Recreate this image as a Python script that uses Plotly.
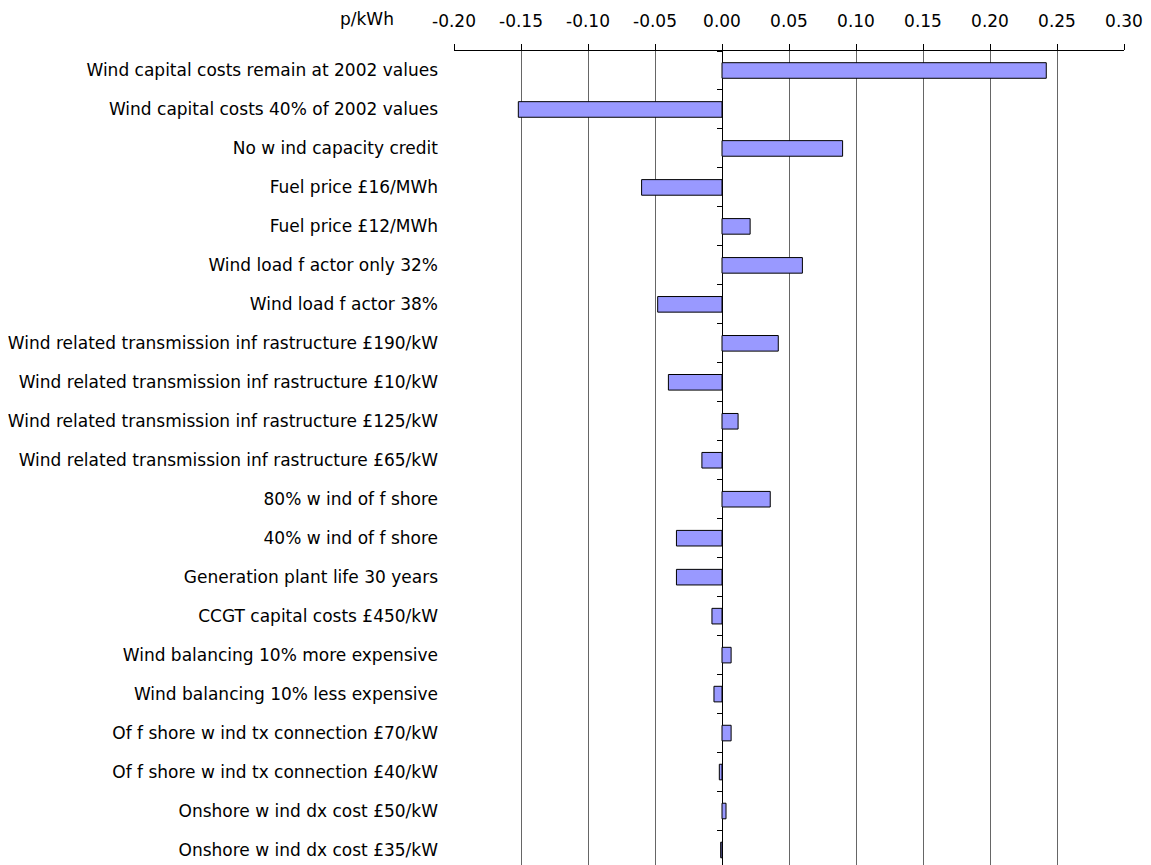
import plotly.graph_objects as go

categories = [
    "Wind capital costs remain at 2002 values",
    "Wind capital costs 40% of 2002 values",
    "No w ind capacity credit",
    "Fuel price £16/MWh",
    "Fuel price £12/MWh",
    "Wind load f actor only 32%",
    "Wind load f actor 38%",
    "Wind related transmission inf rastructure £190/kW",
    "Wind related transmission inf rastructure £10/kW",
    "Wind related transmission inf rastructure £125/kW",
    "Wind related transmission inf rastructure £65/kW",
    "80% w ind of f shore",
    "40% w ind of f shore",
    "Generation plant life 30 years",
    "CCGT capital costs £450/kW",
    "Wind balancing 10% more expensive",
    "Wind balancing 10% less expensive",
    "Of f shore w ind tx connection £70/kW",
    "Of f shore w ind tx connection £40/kW",
    "Onshore w ind dx cost £50/kW",
    "Onshore w ind dx cost £35/kW",
]
values = [0.242, -0.152, 0.090, -0.060, 0.021, 0.060, -0.048, 0.042, -0.040,
          0.012, -0.015, 0.036, -0.034, -0.034, -0.0075, 0.0068, -0.006,
          0.0068, -0.002, 0.003, -0.001]
tick_vals = [-0.20, -0.15, -0.10, -0.05, 0.00, 0.05, 0.10, 0.15, 0.20, 0.25, 0.30]
tick_text = ["-0.20", "-0.15", "-0.10", "-0.05", "0.00", "0.05", "0.10",
             "0.15", "0.20", "0.25", "0.30"]
unit_label = "p/kWh"

FONT = "DejaVu Sans"
FS = 17

fig = go.Figure()
fig.add_trace(go.Bar(
    x=values, y=categories, orientation="h", width=0.4,
    marker=dict(color="#9999FF", line=dict(color="black", width=1)),
    yaxis="y", hoverinfo="x+y", showlegend=False,
))
fig.add_trace(go.Scatter(
    x=values, y=categories, mode="markers", marker=dict(opacity=0),
    yaxis="y2", hoverinfo="skip", showlegend=False,
))

yrange = [20.385, -0.5]
fig.update_layout(
    width=1143, height=857,
    margin=dict(l=446, r=27, t=43, b=0, pad=0, autoexpand=False),
    paper_bgcolor="white", plot_bgcolor="white",
    font=dict(family=FONT, size=FS, color="black"),
    xaxis=dict(
        side="top", range=[-0.2, 0.3], tickvals=tick_vals, ticktext=tick_text,
        showgrid=True, gridcolor="#666666", gridwidth=1,
        zeroline=True, zerolinecolor="black", zerolinewidth=1,
        showline=True, linecolor="black", linewidth=1,
        ticks="outside", ticklen=6, tickcolor="black",
        ticklabelstandoff=10, automargin=False,
        tickfont=dict(family=FONT, size=FS, color="black"),
    ),
    yaxis=dict(
        type="category", categoryorder="array", categoryarray=categories,
        range=yrange, autorange=False, showgrid=False, zeroline=False,
        showline=False, ticks="", ticklabelstandoff=15, automargin=False,
        tickfont=dict(family=FONT, size=FS, color="black"),
    ),
    yaxis2=dict(
        type="category", categoryorder="array", categoryarray=categories,
        overlaying="y", anchor="free", position=0.4, side="left",
        range=yrange, autorange=False, showgrid=False, zeroline=False,
        showline=False, ticks="outside", ticklen=5, tickcolor="black",
        tickson="boundaries", showticklabels=False, automargin=False,
    ),
    annotations=[dict(
        text=unit_label, xref="paper", yref="paper", x=-0.13, y=1.0387,
        xanchor="center", yanchor="middle", showarrow=False,
        font=dict(family=FONT, size=FS, color="black"),
    )],
)

fig.write_html("out.html")
